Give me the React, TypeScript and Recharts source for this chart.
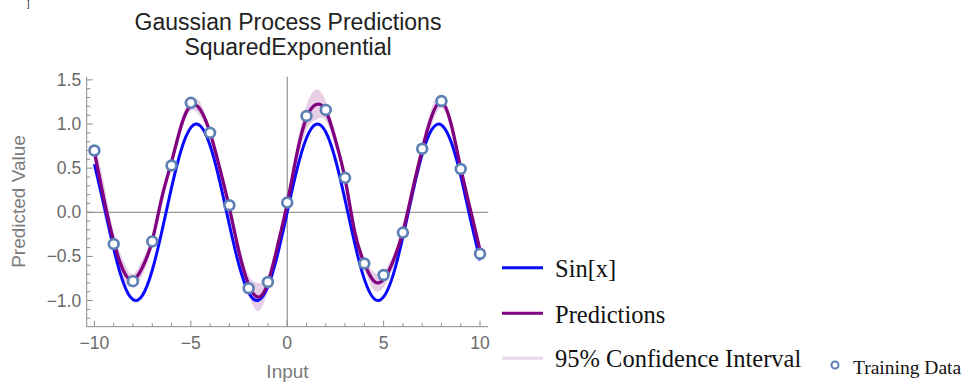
import React from 'react';
import { ComposedChart, Line, Area, Scatter, XAxis, YAxis, ReferenceLine } from 'recharts';

// ---- data ----
const xGrid = [-10, -9.5, -9, -8.5, -8, -7.5, -7, -6.5, -6, -5.5, -5, -4.5, -4, -3.5, -3, -2.5, -2, -1.5, -1, -0.5, 0,
  0.5, 1, 1.5, 2, 2.5, 3, 3.5, 4, 4.5, 5, 5.5, 6, 6.5, 7, 7.5, 8, 8.5, 9, 9.5, 10];
const sinValues = [0.544, 0.075, -0.412, -0.798, -0.989, -0.938, -0.657, -0.215, 0.279, 0.706, 0.959, 0.978, 0.757, 0.351,
  -0.141, -0.598, -0.909, -0.997, -0.841, -0.479, 0, 0.479, 0.841, 0.997, 0.909, 0.598, 0.141, -0.351, -0.757, -0.978,
  -0.959, -0.706, -0.279, 0.215, 0.657, 0.938, 0.989, 0.798, 0.412, -0.075, -0.544];
const predValues = [0.68, 0.14, -0.33, -0.66, -0.77, -0.62, -0.32, 0.17, 0.57, 0.98, 1.21, 1.16, 0.9, 0.5, 0.05, -0.45,
  -0.82, -0.96, -0.8, -0.38, 0.1, 0.66, 1.07, 1.22, 1.15, 0.82, 0.38, -0.22, -0.58, -0.78, -0.76, -0.55, -0.22, 0.25,
  0.71, 1.09, 1.25, 1.0, 0.5, 0.03, -0.43];
const ciLower = [0.58, -0.04, -0.43, -0.77, -0.84, -0.71, -0.38, 0.1, 0.52, 0.91, 1.15, 1.08, 0.86, 0.45, 0.0, -0.54, -0.93,
  -1.12, -0.89, -0.45, 0.04, 0.55, 0.93, 1.05, 1.04, 0.75, 0.33, -0.28, -0.65, -0.88, -0.85, -0.62, -0.27, 0.18, 0.63,
  0.99, 1.18, 0.94, 0.45, -0.03, -0.5];
const ciUpper = [0.8, 0.32, -0.23, -0.55, -0.7, -0.53, -0.26, 0.24, 0.62, 1.05, 1.27, 1.24, 0.94, 0.55, 0.1, -0.36,
  -0.71, -0.8, -0.71, -0.31, 0.16, 0.77, 1.21, 1.39, 1.26, 0.89, 0.43, -0.16, -0.51, -0.68, -0.67, -0.48, -0.17, 0.32,
  0.79, 1.19, 1.32, 1.06, 0.55, 0.09, -0.36];
const trainX = [-10, -9, -8, -7, -6, -5, -4, -3, -2, -1, 0, 1, 2, 3, 4, 5, 6, 7, 8, 9, 10];
const trainY = [0.7, -0.36, -0.78, -0.33, 0.53, 1.24, 0.9, 0.08, -0.86, -0.79, 0.11, 1.09, 1.16, 0.39, -0.58, -0.71,
  -0.23, 0.72, 1.26, 0.49, -0.47];

const xMajorTicks = [-10, -5, 0, 5, 10];
const xTickLabels = ['\u221210', '\u22125', '0', '5', '10'];
const xMinorTicks = [-9, -8, -7, -6, -4, -3, -2, -1, 1, 2, 3, 4, 6, 7, 8, 9];
const yMajorTicks = [-1, -0.5, 0, 0.5, 1, 1.5];
const yTickLabels = ['\u22121.0', '\u22120.5', '0.0', '0.5', '1.0', '1.5'];
const yMinorTicks = [-1.2, -1.1, -0.9, -0.8, -0.7, -0.6, -0.4, -0.3, -0.2, -0.1, 0.1, 0.2, 0.3, 0.4, 0.6, 0.7, 0.8,
  0.9, 1.1, 1.2, 1.3, 1.4];

const titleLines = ['Gaussian Process Predictions', 'SquaredExponential'];
const xLabel = 'Input';
const yLabel = 'Predicted Value';
const legendItems = ['Sin[x]', 'Predictions', '95% Confidence Interval'];
const trainingLabel = 'Training Data';

// ---- styling ----
const BLUE = '#0a0aff';
const PURPLE = '#800080';
const BAND = '#800080';
const POINT = '#5E81B5';
const FRAME = '#8c8c8c';
const TICK_TEXT = '#6a6a6a';
const LABEL_TEXT = '#7a7a7a';
const SANS = '"Liberation Sans", Arial, sans-serif';
const SERIF = '"Liberation Serif", "Times New Roman", serif';

const rows = xGrid.map((x, i) => ({
  x,
  sin: sinValues[i],
  pred: predValues[i],
  ci: [ciLower[i], ciUpper[i]],
}));
const trainData = trainX.map((x, i) => ({ x, y: trainY[i] }));

const xAllTicks = [...xMajorTicks, ...xMinorTicks].sort((a, b) => a - b);
const yAllTicks = [...yMajorTicks, ...yMinorTicks].sort((a, b) => a - b);

const XTick = (props: any) => {
  const { x, y, payload } = props;
  const idx = xMajorTicks.indexOf(payload.value);
  const major = idx >= 0;
  return (
    <g>
      <line x1={x} x2={x} y1={y} y2={y - (major ? 6 : 3.5)} stroke={FRAME} strokeWidth={1} />
      {major && (
        <text x={x} y={y + 16.5} textAnchor="middle" dominantBaseline="central" fontFamily={SANS} fontSize={17.5} fill={TICK_TEXT}>
          {xTickLabels[idx]}
        </text>
      )}
    </g>
  );
};

const YTick = (props: any) => {
  const { x, y, payload } = props;
  const idx = yMajorTicks.findIndex((v) => Math.abs(v - payload.value) < 1e-9);
  const major = idx >= 0;
  return (
    <g>
      <line x1={x} x2={x + (major ? 6 : 3.5)} y1={y} y2={y} stroke={FRAME} strokeWidth={1} />
      {major && (
        <text x={x - 5.5} y={y} textAnchor="end" dominantBaseline="central" fontFamily={SANS} fontSize={17.5} fill={TICK_TEXT}>
          {yTickLabels[idx]}
        </text>
      )}
    </g>
  );
};

const PointShape = (props: any) => {
  const { cx, cy } = props;
  return <circle cx={cx} cy={cy} r={4.9} fill="#ffffff" stroke={POINT} strokeWidth={2.7} />;
};

export default function App() {
  return (
    <div style={{ position: 'absolute', left: 0, top: 0, width: 967, height: 385, background: '#fff' }}>
      <ComposedChart
        width={967}
        height={385}
        data={rows}
        margin={{ top: 76.7, right: 478.7, bottom: 18.3, left: 26.7 }}
      >
        <XAxis
          dataKey="x"
          type="number"
          domain={[-10.4, 10.43]}
          allowDataOverflow
          ticks={xAllTicks}
          interval={0}
          tick={<XTick />}
          tickLine={false}
          tickSize={0}
          tickMargin={0}
          axisLine={{ stroke: FRAME, strokeWidth: 1 }}
          height={40}
        />
        <YAxis
          type="number"
          domain={[-1.296, 1.536]}
          allowDataOverflow
          ticks={yAllTicks}
          interval={0}
          tick={<YTick />}
          tickLine={false}
          tickSize={0}
          tickMargin={0}
          axisLine={{ stroke: FRAME, strokeWidth: 1 }}
          width={60}
        />
        <ReferenceLine x={0} stroke="#7d7d7d" strokeWidth={1} />
        <ReferenceLine y={0} stroke="#7d7d7d" strokeWidth={1} />
        <Area
          type="natural"
          dataKey="ci"
          stroke="none"
          fill={BAND}
          fillOpacity={0.19}
          isAnimationActive={false}
          activeDot={false}
        />
        <Line type="natural" dataKey="sin" stroke={BLUE} strokeWidth={3} dot={false} activeDot={false} isAnimationActive={false} />
        <Line type="natural" dataKey="pred" stroke={PURPLE} strokeWidth={3.3} dot={false} activeDot={false} isAnimationActive={false} />
        <Scatter data={trainData} dataKey="y" shape={<PointShape />} isAnimationActive={false} />
      </ComposedChart>

      <svg width={967} height={385} style={{ position: 'absolute', left: 0, top: 0, pointerEvents: 'none' }}>
        <text x={27} y={7} fontFamily={SANS} fontSize={9} fill="#222">]</text>
        <text x={288} y={30} textAnchor="middle" fontFamily={SANS} fontSize={23} fill="#222">{titleLines[0]}</text>
        <text x={288} y={54.5} textAnchor="middle" fontFamily={SANS} fontSize={23} fill="#222">{titleLines[1]}</text>
        <text x={287.5} y={378} textAnchor="middle" fontFamily={SANS} fontSize={19} fill={LABEL_TEXT}>{xLabel}</text>
        <text x={25} y={201.5} textAnchor="middle" fontFamily={SANS} fontSize={19} fill={LABEL_TEXT} transform="rotate(-90 25 201.5)">{yLabel}</text>

        <line x1={502} x2={543} y1={267.7} y2={267.7} stroke={BLUE} strokeWidth={3} />
        <text x={555} y={268.5} dominantBaseline="central" fontFamily={SERIF} fontSize={24.5} fill="#111">{legendItems[0]}</text>
        <line x1={502} x2={543} y1={313.3} y2={313.3} stroke={PURPLE} strokeWidth={3} />
        <text x={555} y={314} dominantBaseline="central" fontFamily={SERIF} fontSize={24.5} fill="#111">{legendItems[1]}</text>
        <line x1={502} x2={543} y1={358.3} y2={358.3} stroke="#ecd6ec" strokeWidth={3} />
        <text x={555} y={358.5} dominantBaseline="central" fontFamily={SERIF} fontSize={24.5} fill="#111">{legendItems[2]}</text>
        <circle cx={835} cy={365} r={3.5} fill="#fff" stroke={POINT} strokeWidth={2} />
        <text x={853} y={367} dominantBaseline="central" fontFamily={SERIF} fontSize={19.5} fill="#111">{trainingLabel}</text>
      </svg>
    </div>
  );
}
